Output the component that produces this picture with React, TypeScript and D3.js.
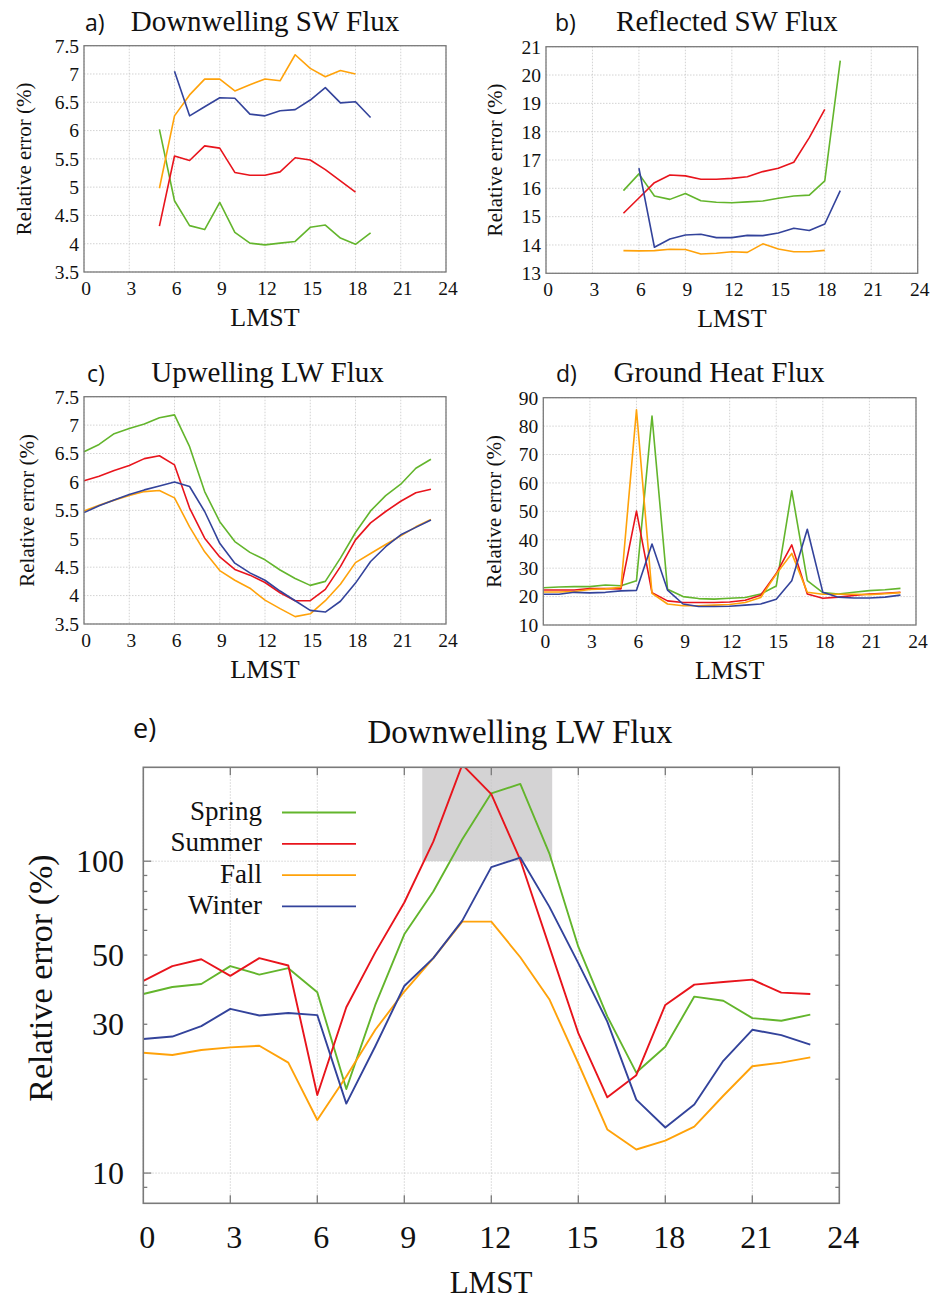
import React from "react";
import * as d3 from "d3";

// ---------- DATA ----------
const SEASONS = ["Spring", "Summer", "Fall", "Winter"];
const SEASON_COLORS = ["#63b52c", "#e8141c", "#ffa20a", "#33439b"];

// a) Downwelling SW Flux
const aStarts = [5, 5, 5, 6];
const aSpring = [6.02, 4.76, 4.32, 4.25, 4.73, 4.2, 4.01, 3.98, 4.01, 4.04, 4.29, 4.33, 4.1, 3.99, 4.19];
const aSummer = [4.31, 5.55, 5.47, 5.73, 5.69, 5.26, 5.21, 5.21, 5.27, 5.52, 5.48, 5.31, 5.11, 4.91];
const aFall = [4.98, 6.26, 6.63, 6.91, 6.91, 6.7, 6.81, 6.91, 6.88, 7.34, 7.1, 6.95, 7.06, 7.0];
const aWinter = [7.05, 6.26, 6.42, 6.58, 6.57, 6.29, 6.26, 6.35, 6.37, 6.54, 6.76, 6.49, 6.51, 6.23];
const aTicks = [3.5, 4, 4.5, 5, 5.5, 6, 6.5, 7, 7.5];

// b) Reflected SW Flux
const bStarts = [5, 5, 5, 6];
const bSpring = [15.92, 16.51, 15.73, 15.61, 15.82, 15.56, 15.51, 15.49, 15.52, 15.55, 15.65, 15.73, 15.76, 16.26, 20.51];
const bSummer = [15.12, 15.66, 16.2, 16.47, 16.44, 16.32, 16.32, 16.35, 16.41, 16.59, 16.71, 16.92, 17.79, 18.79];
const bFall = [13.8, 13.79, 13.8, 13.85, 13.84, 13.68, 13.71, 13.76, 13.74, 14.04, 13.86, 13.76, 13.76, 13.81];
const bWinter = [16.71, 13.92, 14.21, 14.35, 14.38, 14.26, 14.26, 14.34, 14.33, 14.42, 14.59, 14.51, 14.74, 15.92];
const bTicks = [13, 14, 15, 16, 17, 18, 19, 20, 21];

// c) Upwelling LW Flux (hours 0-23)
const cStarts = [0, 0, 0, 0];
const cSpring = [6.53, 6.66, 6.85, 6.94, 7.02, 7.13, 7.18, 6.62, 5.83, 5.3, 4.95, 4.76, 4.63, 4.45, 4.3, 4.18, 4.25, 4.66, 5.11, 5.49, 5.76, 5.96, 6.24, 6.4];
const cSummer = [6.02, 6.1, 6.2, 6.29, 6.41, 6.46, 6.3, 5.54, 5.01, 4.68, 4.46, 4.36, 4.23, 4.05, 3.91, 3.91, 4.11, 4.51, 4.98, 5.28, 5.48, 5.66, 5.81, 5.87];
const cFall = [5.49, 5.59, 5.68, 5.76, 5.83, 5.85, 5.72, 5.21, 4.77, 4.44, 4.27, 4.13, 3.92, 3.77, 3.63, 3.68, 3.91, 4.2, 4.58, 4.74, 4.9, 5.05, 5.21, 5.34];
const cWinter = [5.46, 5.58, 5.68, 5.78, 5.86, 5.93, 6.0, 5.92, 5.48, 4.92, 4.57, 4.4, 4.27, 4.08, 3.91, 3.74, 3.71, 3.9, 4.22, 4.6, 4.86, 5.07, 5.2, 5.33];
const cTicks = [3.5, 4, 4.5, 5, 5.5, 6, 6.5, 7, 7.5];

// d) Ground Heat Flux (hours 0-23)
const dStarts = [0, 0, 0, 0];
const dSpring = [23.1, 23.4, 23.5, 23.5, 24.1, 23.8, 25.6, 83.5, 22.6, 20.0, 19.3, 19.1, 19.4, 19.7, 20.9, 23.7, 57.2, 25.6, 21.4, 20.9, 21.5, 22.1, 22.4, 22.9];
const dSummer = [22.3, 22.3, 22.3, 22.8, 22.8, 22.7, 50.1, 21.4, 18.5, 17.9, 17.9, 17.9, 18.1, 18.7, 20.5, 28.1, 38.2, 20.9, 19.4, 19.8, 20.4, 20.9, 21.2, 21.5];
const dFall = [21.6, 21.6, 21.8, 22.5, 22.7, 23.3, 85.7, 21.1, 17.4, 16.8, 16.8, 17.0, 17.2, 17.9, 19.7, 27.9, 35.2, 21.5, 20.8, 20.8, 20.8, 20.7, 21.0, 21.4];
const dWinter = [20.8, 20.8, 21.5, 21.3, 21.5, 22.0, 22.2, 38.5, 22.3, 17.4, 16.5, 16.5, 16.6, 17.0, 17.4, 19.1, 25.6, 43.7, 21.5, 19.8, 19.5, 19.5, 19.8, 20.5];
const dTicks = [10, 20, 30, 40, 50, 60, 70, 80, 90];

// e) Downwelling LW Flux (hours 0-23, log scale)
const eSpring = [37.5, 39.5, 40.4, 46.1, 43.3, 45.4, 38.0, 18.6, 34.6, 58.3, 79.9, 117.6, 165, 177, 106, 53.2, 31.8, 21.0, 25.4, 36.8, 35.7, 31.4, 30.8, 32.2];
const eSummer = [41.3, 46.1, 48.5, 42.9, 48.9, 46.3, 17.8, 34.0, 51, 73.7, 115.5, 204, 164, 100.9, 53.2, 28.1, 17.5, 20.6, 34.6, 40.2, 41.0, 41.7, 37.9, 37.5];
const eFall = [24.3, 23.9, 24.8, 25.3, 25.6, 22.6, 14.8, 20.4, 28.8, 38.2, 48.9, 64.0, 64.0, 49.2, 36.1, 22.5, 13.8, 11.9, 12.7, 14.1, 17.7, 22.0, 22.6, 23.5];
const eWinter = [26.9, 27.4, 29.6, 33.6, 32.0, 32.6, 32.1, 16.7, 25.5, 39.8, 48.9, 64.5, 95.7, 102.7, 71.5, 47.1, 30.6, 17.2, 14.0, 16.6, 22.9, 28.8, 27.7, 25.8];
const eYLabels = [10, 30, 50, 100];
const eMajor = [10, 100];
const eMinor = [9, 20, 30, 40, 50, 60, 70, 80, 90];
const eShade = { x: [9.62, 14.1], y: [100, 200] };

const hourTicks = [0, 3, 6, 9, 12, 15, 18, 21, 24];

const SERIF = "'Liberation Serif', 'Times New Roman', serif";
const SANS = "'Open Sans', 'Liberation Sans', sans-serif";

type PanelProps = {
  left: number; right: number; top: number; bottom: number;
  domain: [number, number]; ticks: number[];
  series: number[][]; starts: number[];
  letter: string; letterX: number; title: string; titleX: number; titleY: number;
  ylabX: number;
};

function Panel(p: PanelProps) {
  const x = d3.scaleLinear().domain([0, 24]).range([p.left, p.right]);
  const y = d3.scaleLinear().domain(p.domain).range([p.bottom, p.top]);
  const line = d3.line<[number, number]>().x((d) => x(d[0])).y((d) => y(d[1]));
  const midY = (p.top + p.bottom) / 2;
  return (
    <g>
      {hourTicks.map((h) => (
        <line key={"gx" + h} x1={x(h)} x2={x(h)} y1={p.top} y2={p.bottom} stroke="#c8c8c8" strokeWidth={0.8} strokeDasharray="1.5,1.5" />
      ))}
      {p.ticks.map((t) => (
        <line key={"gy" + t} x1={p.left} x2={p.right} y1={y(t)} y2={y(t)} stroke="#c8c8c8" strokeWidth={0.8} strokeDasharray="1.5,1.5" />
      ))}
      {p.series.map((s, i) => (
        <path key={"s" + i} d={line(s.map((v, k) => [p.starts[i] + k, v]) as [number, number][]) || ""} fill="none" stroke={SEASON_COLORS[i]} strokeWidth={1.6} strokeLinejoin="round" />
      ))}
      <rect x={p.left} y={p.top} width={p.right - p.left} height={p.bottom - p.top} fill="none" stroke="#7a7a7a" strokeWidth={1.3} />
      {p.ticks.map((t) => (
        <text key={"ty" + t} x={p.left - 5} y={y(t)} dy="0.35em" textAnchor="end" fontFamily={SERIF} fontSize={19.5} fill="#111">{String(t)}</text>
      ))}
      {hourTicks.map((h) => (
        <text key={"tx" + h} x={x(h) + 2} y={p.bottom + 23} textAnchor="middle" fontFamily={SERIF} fontSize={19.5} fill="#111">{String(h)}</text>
      ))}
      <text x={(p.left + p.right) / 2} y={p.bottom + 54} textAnchor="middle" fontFamily={SERIF} fontSize={26} fill="#111">LMST</text>
      <text transform={`translate(${p.ylabX},${midY}) rotate(-90)`} dy="0.35em" textAnchor="middle" fontFamily={SERIF} fontSize={21} fill="#111">Relative error (%)</text>
      <text x={p.letterX} y={p.titleY} fontFamily={SANS} fontSize={23} fill="#111">{p.letter}</text>
      <text x={p.titleX} y={p.titleY} textAnchor="middle" fontFamily={SERIF} fontSize={29} fill="#111">{p.title}</text>
    </g>
  );
}

function PanelE() {
  const left = 143.3, right = 839.3, top = 767.3, bottom = 1203.3;
  const x = d3.scaleLinear().domain([0, 24]).range([left, right]);
  const y = d3.scaleLog().domain([8, 200]).range([bottom, top]);
  const line = d3.line<[number, number]>().x((d) => x(d[0])).y((d) => y(d[1]));
  const series = [eSpring, eSummer, eFall, eWinter];
  const midY = 978;
  return (
    <g>
      <defs>
        <clipPath id="clipE">
          <rect x={left} y={top} width={right - left} height={bottom - top} />
        </clipPath>
      </defs>
      <rect x={x(eShade.x[0])} y={y(eShade.y[1])} width={x(eShade.x[1]) - x(eShade.x[0])} height={y(eShade.y[0]) - y(eShade.y[1])} fill="#d4d3d4" />
      {hourTicks.map((h) => (
        <line key={"gx" + h} x1={x(h)} x2={x(h)} y1={top} y2={bottom} stroke="#c8c8c8" strokeWidth={0.8} strokeDasharray="1.5,1.5" />
      ))}
      {eMajor.map((t) => (
        <line key={"gy" + t} x1={left} x2={right} y1={y(t)} y2={y(t)} stroke="#c8c8c8" strokeWidth={0.8} strokeDasharray="1.5,1.5" />
      ))}
      {/* legend */}
      {SEASONS.map((s, i) => (
        <g key={"lg" + s}>
          <text x={262} y={820 + i * 31.3} textAnchor="end" fontFamily={SERIF} fontSize={27} fill="#111">{s}</text>
          <line x1={282} x2={356} y1={812.5 + i * 31.3} y2={812.5 + i * 31.3} stroke={SEASON_COLORS[i]} strokeWidth={1.8} />
        </g>
      ))}
      <g clipPath="url(#clipE)">
        {series.map((s, i) => (
          <path key={"s" + i} d={line(s.map((v, k) => [k, v]) as [number, number][]) || ""} fill="none" stroke={SEASON_COLORS[i]} strokeWidth={1.9} strokeLinejoin="round" />
        ))}
      </g>
      {/* ticks */}
      {hourTicks.slice(1, -1).map((h) => (
        <g key={"tk" + h}>
          <line x1={x(h)} x2={x(h)} y1={bottom} y2={bottom - 8} stroke="#7a7a7a" strokeWidth={1.3} />
          <line x1={x(h)} x2={x(h)} y1={top} y2={top + 8} stroke="#7a7a7a" strokeWidth={1.3} />
        </g>
      ))}
      {eMajor.map((t) => (
        <g key={"mj" + t}>
          <line x1={left} x2={left + 8} y1={y(t)} y2={y(t)} stroke="#7a7a7a" strokeWidth={1.3} />
          <line x1={right} x2={right - 8} y1={y(t)} y2={y(t)} stroke="#7a7a7a" strokeWidth={1.3} />
        </g>
      ))}
      {eMinor.map((t) => (
        <g key={"mn" + t}>
          <line x1={left} x2={left + 4} y1={y(t)} y2={y(t)} stroke="#7a7a7a" strokeWidth={1.3} />
          <line x1={right} x2={right - 4} y1={y(t)} y2={y(t)} stroke="#7a7a7a" strokeWidth={1.3} />
        </g>
      ))}
      <rect x={left} y={top} width={right - left} height={bottom - top} fill="none" stroke="#7a7a7a" strokeWidth={1.6} />
      {eYLabels.map((t) => (
        <text key={"ty" + t} x={124} y={y(t)} dy="0.35em" textAnchor="end" fontFamily={SERIF} fontSize={32} fill="#111">{String(t)}</text>
      ))}
      {hourTicks.map((h) => (
        <text key={"tx" + h} x={x(h) + 4} y={1248} textAnchor="middle" fontFamily={SERIF} fontSize={32} fill="#111">{String(h)}</text>
      ))}
      <text x={491} y={1293} textAnchor="middle" fontFamily={SERIF} fontSize={31} fill="#111">LMST</text>
      <text transform={`translate(40,${midY}) rotate(-90)`} dy="0.35em" textAnchor="middle" fontFamily={SERIF} fontSize={34} fill="#111">Relative error (%)</text>
      <text x={133} y={738} fontFamily={SANS} fontSize={27} fill="#111">e)</text>
      <text x={520} y={743} textAnchor="middle" fontFamily={SERIF} fontSize={33} fill="#111">Downwelling LW Flux</text>
    </g>
  );
}

export default function App() {
  return (
    <svg width={934} height={1300} style={{ position: "absolute", left: 0, top: 0, background: "#fff" }}>
      <rect x={0} y={0} width={934} height={1300} fill="#fff" />
      <Panel left={84} right={446} top={45.7} bottom={272} domain={[3.5, 7.5]} ticks={aTicks}
        series={[aSpring, aSummer, aFall, aWinter]} starts={aStarts}
        letter="a)" letterX={85} title="Downwelling SW Flux" titleX={265} titleY={31} ylabX={24} />
      <Panel left={546} right={917.7} top={46.7} bottom={273.3} domain={[13, 21]} ticks={bTicks}
        series={[bSpring, bSummer, bFall, bWinter]} starts={bStarts}
        letter="b)" letterX={555} title="Reflected SW Flux" titleX={727} titleY={31} ylabX={495} />
      <Panel left={84} right={446} top={396.7} bottom={624} domain={[3.5, 7.5]} ticks={cTicks}
        series={[cSpring, cSummer, cFall, cWinter]} starts={cStarts}
        letter="c)" letterX={87} title="Upwelling LW Flux" titleX={267.5} titleY={382} ylabX={27} />
      <Panel left={543.3} right={916} top={397.7} bottom={625} domain={[10, 90]} ticks={dTicks}
        series={[dSpring, dSummer, dFall, dWinter]} starts={dStarts}
        letter="d)" letterX={556} title="Ground Heat Flux" titleX={719} titleY={382} ylabX={494} />
      <PanelE />
    </svg>
  );
}
